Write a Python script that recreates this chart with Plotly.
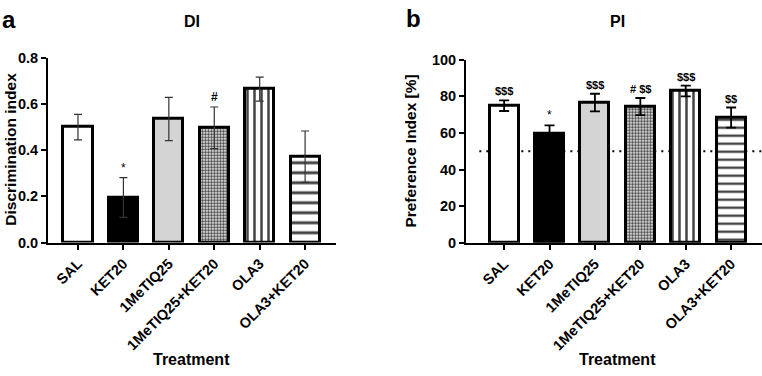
import plotly.graph_objects as go

treatments = ["SAL", "KET20", "1MeTIQ25", "1MeTIQ25+KET20", "OLA3", "OLA3+KET20"]
di_values = [0.50, 0.195, 0.535, 0.497, 0.664, 0.372]
di_errors = [0.055, 0.086, 0.094, 0.090, 0.052, 0.111]
di_marks = ["", "*", "", "#", "", ""]
pi_values = [74.9, 59.4, 76.6, 74.4, 82.9, 68.4]
pi_errors = [2.9, 4.7, 4.8, 4.7, 2.9, 5.5]
pi_marks = ["$$$", "*", "$$$", "# $$", "$$$", "$$"]
chance_level = 50

W, H = 762, 376
FONT = "Liberation Sans, Arial, sans-serif"

fills = ["white", "black", "#d4d4d4", "white", "white", "white"]


def patterns(hsize):
    return dict(
        shape=["", "", "", ".", "|", "-"],
        size=[4, 4, 4, 3.0, 7, hsize],
        solidity=[0.3, 0.3, 0.3, 0.6, 0.36, 0.3],
        fgcolor="black",
        fgopacity=1,
        bgcolor="white",
        fillmode="overlay",
    )


fig = go.Figure()
fig.add_trace(go.Bar(
    x=treatments, y=di_values, width=0.64,
    marker=dict(color=fills, line=dict(color="black", width=3), pattern=patterns(10)),
    error_y=dict(type="data", array=di_errors, color="#333333", thickness=1.2, width=4),
    xaxis="x", yaxis="y", showlegend=False,
))
fig.add_trace(go.Bar(
    x=treatments, y=pi_values, width=0.64,
    marker=dict(color=fills, line=dict(color="black", width=3), pattern=patterns(8)),
    error_y=dict(type="data", array=pi_errors, color="black", thickness=1.8, width=5),
    xaxis="x2", yaxis="y2", showlegend=False,
))

axis_common = dict(
    showline=True, linecolor="black", linewidth=2,
    ticks="outside", ticklen=5, tickwidth=2, tickcolor="black",
    showgrid=False, zeroline=False,
    tickfont=dict(family=FONT, size=14.5, color="black", weight="bold"),
)

fig.update_layout(
    width=W, height=H,
    margin=dict(l=0, r=0, t=0, b=0),
    paper_bgcolor="white", plot_bgcolor="white",
    bargap=0,
    xaxis=dict(domain=[48 / W, 336 / W], range=[-0.66, 5.68], anchor="y",
               tickangle=-45, type="category", **axis_common),
    yaxis=dict(domain=[1 - 245 / H, 1 - 52 / H], range=[0, 0.8], anchor="x",
               tickvals=[0, 0.2, 0.4, 0.6, 0.8], ticktext=["0.0", "0.2", "0.4", "0.6", "0.8"],
               **axis_common),
    xaxis2=dict(domain=[466 / W, 1.0], range=[-0.84, 5.68], anchor="y2",
                tickangle=-45, type="category", **axis_common),
    yaxis2=dict(domain=[1 - 245.3 / H, 1 - 54 / H], range=[0, 100], anchor="x2",
                tickvals=[0, 20, 40, 60, 80, 100], **axis_common),
)

# chance level line
fig.add_shape(type="line", xref="x2 domain", yref="y2", x0=0.045, x1=1.0,
              y0=chance_level, y1=chance_level,
              line=dict(color="black", width=2, dash="2px,5px"), layer="below")


def safe(t):
    # avoid LaTeX interpretation of dollar signs
    return t.replace("$", "&#36;")


annotations = []
for cat, v, e, m in zip(treatments, di_values, di_errors, di_marks):
    if m:
        annotations.append(dict(x=cat, y=v + e, xref="x", yref="y", text=safe(m), showarrow=False,
                                yanchor="bottom", yshift=1,
                                font=dict(family=FONT, size=12, color="black",
                                          weight="bold" if m != "*" else "normal")))
for cat, v, e, m in zip(treatments, pi_values, pi_errors, pi_marks):
    if m:
        annotations.append(dict(x=cat, y=v + e, xref="x2", yref="y2", text=safe(m), showarrow=False,
                                yanchor="bottom", yshift=1,
                                font=dict(family=FONT, size=11 if m != "*" else 12, color="black",
                                          weight="bold" if m != "*" else "normal")))


def ptxt(text, xpx, ypx, size, angle=0, xanchor="center"):
    return dict(x=xpx / W, y=1 - ypx / H, xref="paper", yref="paper", text=text,
                showarrow=False, xanchor=xanchor, yanchor="middle", textangle=angle,
                font=dict(family=FONT, size=size, color="black", weight="bold"))


annotations += [
    ptxt("a", 0, 12, 24, xanchor="left"),
    ptxt("b", 404, 11, 24, xanchor="left"),
    ptxt("DI", 192, 14, 16),
    ptxt("PI", 617, 14, 16),
    ptxt("Treatment", 191, 367, 16),
    ptxt("Treatment", 617, 367, 16),
    ptxt("Discrimination index", 11, 148, 15.5, angle=-90),
    ptxt("Preference Index [%]", 411, 150, 15.5, angle=-90),
]
fig.update_layout(annotations=annotations)

fig.write_html(
    "out.html", config={"displayModeBar": False},
    post_script=("document.documentElement.style.margin='0';"
                 "document.documentElement.style.overflow='hidden';"
                 "document.body.style.margin='0';"
                 "document.body.style.overflow='hidden';"),
)
